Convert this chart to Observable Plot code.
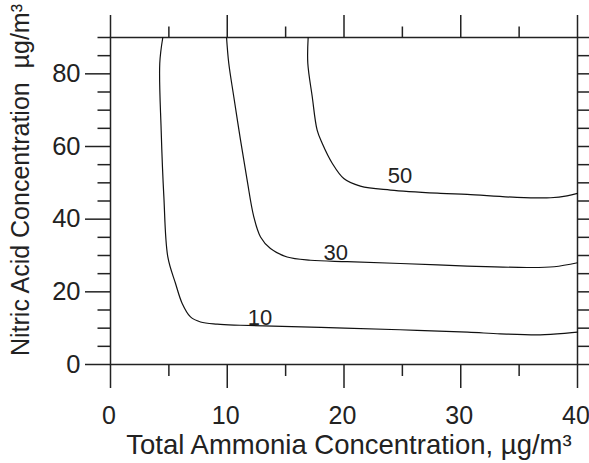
<!DOCTYPE html>
<html><head><meta charset="utf-8">
<script src="https://cdn.jsdelivr.net/npm/d3@7"></script>
<script src="https://cdn.jsdelivr.net/npm/@observablehq/plot@0.6"></script>
<style>body{margin:0;background:#fff} svg{display:block}</style>
</head><body><div id="chart"></div>
<script>
const xMajorTicks = [0, 10, 20, 30, 40];
const xMinorTicks = [5, 15, 25, 35];
const yMajorTicks = [0, 20, 40, 60, 80];
const yMinorTicks = [5, 10, 15, 25, 30, 35, 45, 50, 55, 65, 70, 75, 85, 90];
const yRightTicks = [0, 5, 10, 15, 20, 25, 30, 35, 40, 45, 50, 55, 60, 65, 70, 75, 80, 85, 90];
const xTitle = "Total Ammonia Concentration, µg/m³";
const yTitle = "Nitric Acid Concentration\u00a0 µg/m³";

// contour 10
const c10x = [4.48, 4.22, 4.34, 4.57, 4.91, 5.57, 6.14, 6.85, 7.71, 9.14, 11.1, 18.0, 24.8, 30.6, 33.4, 36.8, 39.1, 40.0];
const c10y = [90, 82.9, 64.5, 46.2, 29.6, 22.3, 16.8, 13.1, 11.7, 11.1, 10.8, 10.2, 9.56, 8.9, 8.45, 8.18, 8.62, 8.9];
// contour 30
const c30x = [9.94, 10.13, 10.56, 11.13, 11.7, 12.27, 12.85, 13.7, 15.13, 17.13, 20.27, 24.84, 30.55, 35.7, 38.0, 40.0];
const c30y = [90, 82.9, 73.7, 61.9, 50.8, 40.7, 35.1, 31.9, 29.6, 28.7, 28.3, 27.8, 27.1, 26.7, 26.9, 28.0];
// contour 50
const c50x = [16.93, 16.9, 17.28, 17.7, 18.13, 18.99, 19.98, 21.4, 23.98, 28.27, 30.55, 34.8, 37.7, 39.1, 40.0];
const c50y = [90, 82.9, 73.7, 64.5, 60.9, 55.4, 51.2, 49.1, 48.0, 47.1, 46.8, 46.0, 45.9, 46.4, 47.1];

const contourLabelText = ["10", "30", "50"];
const contourLabelX = [12.8, 19.3, 24.8];
const contourLabelY = [12.9, 30.8, 52.0];

const curves = [
  ...c10x.map((x, i) => ({x, y: c10y[i], level: "10"})),
  ...c30x.map((x, i) => ({x, y: c30y[i], level: "30"})),
  ...c50x.map((x, i) => ({x, y: c50y[i], level: "50"}))
];
const labels = contourLabelText.map((t, i) => ({x: contourLabelX[i], y: contourLabelY[i], t}));

const ink = "#222";
const none = () => "";

const chart = Plot.plot({
  width: 589,
  height: 463,
  marginLeft: 110,
  marginRight: 12,
  marginTop: 37,
  marginBottom: 99,
  style: {fontFamily: "'Liberation Sans', Arial, Helvetica, sans-serif", background: "white", color: ink},
  x: {domain: [0, 40], label: null},
  y: {domain: [0, 90], label: null},
  marks: [
    // bottom ticks
    Plot.axisX(xMajorTicks, {anchor: "bottom", tickSize: 24, tickFormat: none, label: null, stroke: ink, strokeWidth: 1.5}),
    Plot.axisX(xMinorTicks, {anchor: "bottom", tickSize: 12, tickFormat: none, label: null, stroke: ink, strokeWidth: 1.5}),
    Plot.axisX(xMajorTicks, {anchor: "bottom", tickSize: 0, tickPadding: 42, fontSize: 25, label: null, fill: ink, dx: -1.5}),
    // top ticks
    Plot.axisX(xMajorTicks, {anchor: "top", tickSize: 23, tickFormat: none, label: null, stroke: ink, strokeWidth: 1.5}),
    Plot.axisX(xMinorTicks, {anchor: "top", tickSize: 11.5, tickFormat: none, label: null, stroke: ink, strokeWidth: 1.5}),
    // left ticks
    Plot.axisY(yMajorTicks, {anchor: "left", tickSize: 25, tickFormat: none, label: null, stroke: ink, strokeWidth: 1.5}),
    Plot.axisY(yMinorTicks, {anchor: "left", tickSize: 12.5, tickFormat: none, label: null, stroke: ink, strokeWidth: 1.5}),
    Plot.axisY(yMajorTicks, {anchor: "left", tickSize: 0, tickPadding: 30, fontSize: 25.5, label: null, fill: ink}),
    // right ticks
    Plot.axisY(yRightTicks, {anchor: "right", tickSize: 12, tickFormat: none, label: null, stroke: ink, strokeWidth: 1.5}),
    Plot.frame({stroke: ink, strokeWidth: 1.5}),
    Plot.line(curves, {x: "x", y: "y", z: "level", curve: "catmull-rom", stroke: "#111", strokeWidth: 1.2}),
    Plot.text(labels, {x: "x", y: "y", text: "t", fontSize: 22, fill: ink}),
    Plot.text([xTitle], {frameAnchor: "bottom", textAnchor: "middle", lineAnchor: "middle", dx: 5, dy: 81, fontSize: 27.5, fill: ink}),
    Plot.text([yTitle], {frameAnchor: "left", textAnchor: "middle", lineAnchor: "middle", rotate: -90, dx: -90, dy: -21, fontSize: 25, fill: ink})
  ]
});
document.getElementById("chart").appendChild(chart);
</script>
</body></html>
